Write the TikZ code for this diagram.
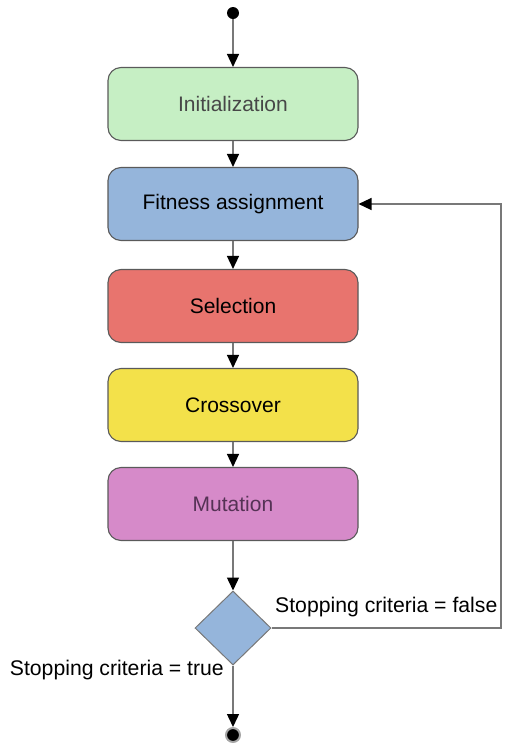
\documentclass[tikz,border=0pt]{standalone}
\usepackage{fontspec}
\setmainfont{Liberation Sans}
\usetikzlibrary{shapes.geometric,arrows.meta}
\definecolor{cgreen}{RGB}{198,239,196}
\definecolor{cblue}{RGB}{149,181,219}
\definecolor{cred}{RGB}{232,116,110}
\definecolor{cyellow}{RGB}{243,225,74}
\definecolor{cpink}{RGB}{214,138,201}
\definecolor{cline}{RGB}{120,120,120}
\definecolor{cborder}{RGB}{90,90,90}
\begin{document}
\begin{tikzpicture}[x=1pt,y=-1pt,
  stepbox/.style={draw=cborder,line width=1.1pt,rounded corners=13pt,minimum width=250pt,minimum height=73pt,inner sep=0pt,font=\fontsize{21}{25}\selectfont},
  flow/.style={draw=cline,line width=1.4pt,-{Triangle[length=13pt,width=12pt,fill=black,color=black]}},
  lbl/.style={font=\fontsize{21.2}{25}\selectfont,inner sep=0pt}]
\useasboundingbox (0,0) rectangle (506,745);
\node[circle,fill=black,minimum size=12pt,inner sep=0pt] (start) at (233,13) {};
\node[stepbox,fill=cgreen,text=black!72] (init) at (233,104) {Initialization};
\node[stepbox,fill=cblue] (fit) at (233,204) {Fitness assignment};
\node[stepbox,fill=cred] (sel) at (233,306) {Selection};
\node[stepbox,fill=cyellow] (cross) at (233,405) {Crossover};
\node[stepbox,fill=cpink,text={rgb,255:red,85;green,50;blue,85}] (mut) at (233,504) {Mutation};
\node[diamond,draw=cline,line width=1pt,fill=cblue,minimum width=76pt,minimum height=74pt,inner sep=0pt] (dec) at (233,628) {};
\node[circle,fill=black,draw=gray!70,line width=2pt,minimum size=14pt,inner sep=0pt] (end) at (233,735) {};
\coordinate (c1) at (501,628);
\coordinate (c2) at (501,204);
\draw[flow] (start) -- (init);
\draw[flow] (init) -- (fit);
\draw[flow] (fit) -- (sel);
\draw[flow] (sel) -- (cross);
\draw[flow] (cross) -- (mut);
\draw[flow] (mut) -- (dec);
\draw[flow] (dec) -- (end);
\draw[flow] (dec.east) -- (c1) -- (c2) -- (fit.east);
\node[lbl,anchor=south west] (lf) at (275,617) {Stopping criteria = false};
\node[lbl,anchor=south east] (lt) at (224,680) {Stopping criteria = true};
\end{tikzpicture}
\end{document}
